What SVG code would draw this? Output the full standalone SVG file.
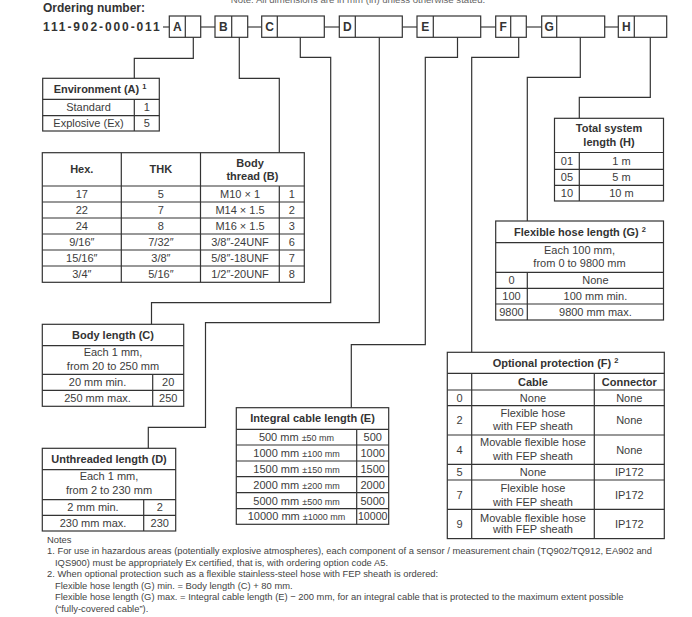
<svg xmlns="http://www.w3.org/2000/svg" width="692" height="617" viewBox="0 0 692 617">
<style>
text{font-family:"Liberation Sans",Arial,sans-serif;}
.t{font-size:11px;fill:#3c3c3c;text-anchor:middle}
.s{font-size:9px}
.h{font-size:11px;font-weight:bold;fill:#333;text-anchor:middle}
.sup{font-size:7.5px;font-weight:bold;fill:#333}
.b{fill:#fff;stroke:#333;stroke-width:1.2}
.g{fill:none;stroke:#333;stroke-width:1.2}
.c{fill:none;stroke:#333;stroke-width:1.2}
.j{fill:none;stroke:#8a8a8a;stroke-width:2}
.L{font-size:12px;font-weight:bold;fill:#333;text-anchor:middle}
.n{font-size:9.4px;fill:#444}
</style>
<rect width="692" height="617" fill="#fff"/>
<text x="358" y="3" class="n" style="font-size:9.6px;fill:#666;text-anchor:middle">Note: All dimensions are in mm (in) unless otherwise stated.</text>
<text x="43" y="12" style="font-size:12px;font-weight:bold;fill:#333">Ordering number:</text>
<text x="43" y="31" style="font-size:12px;font-weight:bold;fill:#333;letter-spacing:1.9px">111-902-000-011</text>

<g id="code-boxes">
<path class="j" d="M163 27H169.3M200.7 27H215M247.7 27H261.7M324.3 27H339.3M402.3 27H417M480.7 27H495.7M526.3 27H541.7M604.7 27H618.3"/>
<rect class="b" x="169.3" y="16" width="31.4" height="21.3"/><path class="g" d="M185.3 16V37.3"/><text class="L" x="177.3" y="31">A</text>
<rect class="b" x="215" y="16" width="32.7" height="21.3"/><path class="g" d="M231.7 16V37.3"/><text class="L" x="223.3" y="31">B</text>
<rect class="b" x="261.7" y="16" width="62.6" height="21.3"/><path class="g" d="M277.3 16V37.3"/><text class="L" x="269.5" y="31">C</text>
<rect class="b" x="339.3" y="16" width="63" height="21.3"/><path class="g" d="M355.3 16V37.3"/><text class="L" x="347.3" y="31">D</text>
<rect class="b" x="417" y="16" width="63.7" height="21.3"/><path class="g" d="M433.3 16V37.3"/><text class="L" x="425.2" y="31">E</text>
<rect class="b" x="495.7" y="16" width="30.6" height="21.3"/><path class="g" d="M510.7 16V37.3"/><text class="L" x="503.2" y="31">F</text>
<rect class="b" x="541.7" y="16" width="63" height="21.3"/><path class="g" d="M556.7 16V37.3"/><text class="L" x="549.2" y="31">G</text>
<rect class="b" x="618.3" y="16" width="48.4" height="21.3"/><path class="g" d="M634.3 16V37.3"/><text class="L" x="626.3" y="31">H</text>
</g>

<g id="connectors">
<path class="c" d="M193.3 37.3V58.3H134.3V78.3"/>
<path class="c" d="M239.3 37.3V78.3H279.3V152.7"/>
<path class="c" d="M300.3 37.3V57.3H330.7V302.7H151.5V324.3"/>
<path class="c" d="M379.3 37.3V322.7H205.5V427.3H148.3V448.3"/>
<path class="c" d="M457.5 37.3V57.3H425.3V344.7H351.3V407.7"/>
<path class="c" d="M518.7 37.3V57.3H471.7V352.3"/>
<path class="c" d="M580.3 37.3V77.3H527.3V221"/>
<path class="c" d="M650.3 37.3V97.3H579.3V118.3"/>
</g>

<g id="environment-A">
<rect class="g" x="42.7" y="78.3" width="116.6" height="52.7"/>
<path class="g" d="M42.7 99.3H159.3M42.7 115.7H159.3M134.3 99.3V131"/>
<text class="h" x="100" y="92.7">Environment (A)<tspan class="sup" dx="3" dy="-4">1</tspan></text>
<text class="t" x="88.5" y="111.4">Standard</text><text class="t" x="146.8" y="111.4">1</text>
<text class="t" x="88.5" y="127.2">Explosive (Ex)</text><text class="t" x="146.8" y="127.2">5</text>
</g>

<g id="body-thread-B">
<rect class="g" x="42.3" y="152.7" width="262" height="129.6"/>
<path class="g" d="M42.3 186H304.3M42.3 202H304.3M42.3 218H304.3M42.3 234H304.3M42.3 250H304.3M42.3 266H304.3M121.3 152.7V282.3M200.5 152.7V282.3M279.3 186V282.3"/>
<text class="h" x="81.8" y="173.2">Hex.</text>
<text class="h" x="160.9" y="173.2">THK</text>
<text class="h" x="250" y="167">Body</text>
<text class="h" x="252.4" y="179.5">thread (B)</text>
<text class="t" x="81.8" y="197.9">17</text><text class="t" x="160.9" y="197.9">5</text><text class="t" x="240" y="197.9">M10 × 1</text><text class="t" x="291.8" y="197.9">1</text>
<text class="t" x="81.8" y="213.9">22</text><text class="t" x="160.9" y="213.9">7</text><text class="t" x="240" y="213.9">M14 × 1.5</text><text class="t" x="291.8" y="213.9">2</text>
<text class="t" x="81.8" y="229.9">24</text><text class="t" x="160.9" y="229.9">8</text><text class="t" x="240" y="229.9">M16 × 1.5</text><text class="t" x="291.8" y="229.9">3</text>
<text class="t" x="81.8" y="245.9">9/16″</text><text class="t" x="160.9" y="245.9">7/32″</text><text class="t" x="240" y="245.9">3/8″-24UNF</text><text class="t" x="291.8" y="245.9">6</text>
<text class="t" x="81.8" y="261.9">15/16″</text><text class="t" x="160.9" y="261.9">3/8″</text><text class="t" x="240" y="261.9">5/8″-18UNF</text><text class="t" x="291.8" y="261.9">7</text>
<text class="t" x="81.8" y="277.9">3/4″</text><text class="t" x="160.9" y="277.9">5/16″</text><text class="t" x="240" y="277.9">1/2″-20UNF</text><text class="t" x="291.8" y="277.9">8</text>
</g>

<g id="body-length-C">
<rect class="g" x="42.3" y="324.3" width="141.4" height="82"/>
<path class="g" d="M42.3 345.7H183.7M42.3 374.3H183.7M42.3 390.3H183.7M152.7 374.3V406.3"/>
<text class="h" x="113" y="338.9">Body length (C)</text>
<text class="t" x="113" y="356.2">Each 1 mm,</text>
<text class="t" x="113" y="369.6">from 20 to 250 mm</text>
<text class="t" x="97.5" y="386.2">20 mm min.</text><text class="t" x="168.2" y="386.2">20</text>
<text class="t" x="97.5" y="402.2">250 mm max.</text><text class="t" x="168.2" y="402.2">250</text>
</g>

<g id="unthreaded-length-D">
<rect class="g" x="42.3" y="448.3" width="133.4" height="82.7"/>
<path class="g" d="M42.3 469.7H175.7M42.3 499.7H175.7M42.3 515.3H175.7M143.7 499.7V531"/>
<text class="h" x="109" y="462.9">Unthreaded length (D)</text>
<text class="t" x="109" y="479.6">Each 1 mm,</text>
<text class="t" x="109" y="494.2">from 2 to 230 mm</text>
<text class="t" x="93" y="511.4">2 mm min.</text><text class="t" x="159.7" y="511.4">2</text>
<text class="t" x="93" y="527">230 mm max.</text><text class="t" x="159.7" y="527">230</text>
</g>

<g id="integral-cable-length-E">
<rect class="g" x="236.3" y="407.7" width="152.4" height="116.6"/>
<path class="g" d="M236.3 429.3H388.7M236.3 445H388.7M236.3 461H388.7M236.3 476.7H388.7M236.3 492.7H388.7M236.3 508.7H388.7M356.7 429.3V524.3"/>
<text class="h" x="312.5" y="422.3">Integral cable length (E)</text>
<text class="t" x="296.5" y="441.1">500 mm <tspan class="s">±50 mm</tspan></text><text class="t" x="372.7" y="441.1">500</text>
<text class="t" x="296.5" y="456.9">1000 mm <tspan class="s">±100 mm</tspan></text><text class="t" x="372.7" y="456.9">1000</text>
<text class="t" x="296.5" y="472.8">1500 mm <tspan class="s">±150 mm</tspan></text><text class="t" x="372.7" y="472.8">1500</text>
<text class="t" x="296.5" y="488.6">2000 mm <tspan class="s">±200 mm</tspan></text><text class="t" x="372.7" y="488.6">2000</text>
<text class="t" x="296.5" y="504.6">5000 mm <tspan class="s">±500 mm</tspan></text><text class="t" x="372.7" y="504.6">5000</text>
<text class="t" x="296.5" y="520.4">10000 mm <tspan class="s">±1000 mm</tspan></text><text class="t" x="372.7" y="520.4" style="font-size:10.6px">10000</text>
</g>

<g id="total-system-length-H">
<rect class="g" x="554.5" y="118.3" width="109" height="82.7"/>
<path class="g" d="M554.5 152.5H663.5M554.5 169.3H663.5M554.5 185.3H663.5M579.3 152.5V201"/>
<text class="h" x="609" y="132.2">Total system</text>
<text class="h" x="609" y="146.2">length (H)</text>
<text class="t" x="566.9" y="164.8">01</text><text class="t" x="621.4" y="164.8">1 m</text>
<text class="t" x="566.9" y="181.2">05</text><text class="t" x="621.4" y="181.2">5 m</text>
<text class="t" x="566.9" y="197">10</text><text class="t" x="621.4" y="197">10 m</text>
</g>

<g id="flexible-hose-length-G">
<rect class="g" x="495.7" y="221" width="167.8" height="99"/>
<path class="g" d="M495.7 242.7H663.5M495.7 272.3H663.5M495.7 288.3H663.5M495.7 304H663.5M527.3 272.3V320"/>
<text class="h" x="580" y="235.7">Flexible hose length (G)<tspan class="sup" dx="3" dy="-4">2</tspan></text>
<text class="t" x="579.5" y="253.9">Each 100 mm,</text>
<text class="t" x="579.5" y="267.2">from 0 to 9800 mm</text>
<text class="t" x="511.5" y="284.2">0</text><text class="t" x="595.4" y="284.2">None</text>
<text class="t" x="511.5" y="300">100</text><text class="t" x="595.4" y="300">100 mm min.</text>
<text class="t" x="511.5" y="315.9">9800</text><text class="t" x="595.4" y="315.9">9800 mm max.</text>
</g>

<g id="optional-protection-F">
<rect class="g" x="447.3" y="352.3" width="217" height="186.3"/>
<path class="g" d="M447.3 373.3H664.3M447.3 390H664.3M447.3 405.7H664.3M447.3 435H664.3M447.3 464.3H664.3M447.3 480H664.3M447.3 509.3H664.3M471.7 373.3V538.6M594.3 373.3V538.6"/>
<text class="h" x="555.5" y="366.7">Optional protection (F)<tspan class="sup" dx="3" dy="-4">2</tspan></text>
<text class="h" x="533" y="385.5">Cable</text><text class="h" x="629.3" y="385.5">Connector</text>
<text class="t" x="459.5" y="401.7">0</text><text class="t" x="533" y="401.7">None</text><text class="t" x="629.3" y="401.7">None</text>
<text class="t" x="459.5" y="424.2">2</text><text class="t" x="533" y="417.2">Flexible hose</text><text class="t" x="533" y="429.9">with FEP sheath</text><text class="t" x="629.3" y="424.2">None</text>
<text class="t" x="459.5" y="453.6">4</text><text class="t" x="533" y="446.2">Movable flexible hose</text><text class="t" x="533" y="459.9">with FEP sheath</text><text class="t" x="629.3" y="453.6">None</text>
<text class="t" x="459.5" y="476">5</text><text class="t" x="533" y="476">None</text><text class="t" x="629.3" y="476">IP172</text>
<text class="t" x="459.5" y="498.6">7</text><text class="t" x="533" y="492.2">Flexible hose</text><text class="t" x="533" y="505.6">with FEP sheath</text><text class="t" x="629.3" y="498.6">IP172</text>
<text class="t" x="459.5" y="527.9">9</text><text class="t" x="533" y="521.6">Movable flexible hose</text><text class="t" x="533" y="533.2">with FEP sheath</text><text class="t" x="629.3" y="527.9">IP172</text>
</g>

<g id="notes">
<text class="n" x="47" y="543">Notes</text>
<text class="n" x="47" y="554">1. For use in hazardous areas (potentially explosive atmospheres), each component of a sensor / measurement chain (TQ902/TQ912, EA902 and</text>
<text class="n" x="55" y="565.5">IQS900) must be appropriately Ex certified, that is, with ordering option code A5.</text>
<text class="n" x="47" y="577">2. When optional protection such as a flexible stainless-steel hose with FEP sheath is ordered:</text>
<text class="n" x="55" y="588.5">Flexible hose length (G) min. = Body length (C) + 80 mm.</text>
<text class="n" x="55" y="600">Flexible hose length (G) max. = Integral cable length (E) − 200 mm, for an integral cable that is protected to the maximum extent possible</text>
<text class="n" x="55" y="611.5">(“fully-covered cable”).</text>
</g>
</svg>
